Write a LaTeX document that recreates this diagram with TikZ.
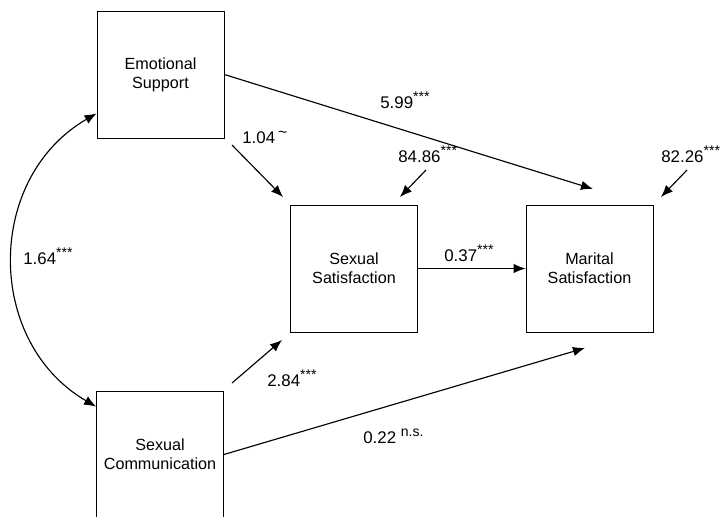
\documentclass[tikz,border=0pt]{standalone}
\usepackage{fontspec}
\setmainfont{Liberation Sans}
\usetikzlibrary{arrows.meta}
\usetikzlibrary{calc}

\newcommand{\sig}[1]{\raisebox{0.4em}{\fontsize{8}{8}\selectfont #1}}

\begin{document}
\begin{tikzpicture}[
    var/.style={draw, line width=0.45pt, minimum size=2.54cm, inner sep=0pt, align=center,
        font=\fontsize{9.2}{11}\selectfont},
    lbl/.style={font=\fontsize{9.6}{11}\selectfont, inner sep=0pt, anchor=base west},
    path/.style={line width=0.65pt, -{Latex[length=2.4mm,width=1.9mm]}}]
    \clip (0,0) rectangle (14.46,-10.32);
            \node[var] (ES) at (3.21,-1.49) {Emotional\\Support};
            \node[var] (SS) at (7.08,-5.37) {Sexual\\Satisfaction};
            \node[var] (MS) at (11.79,-5.37) {Marital\\Satisfaction};
            \node[var] (SC) at (3.20,-9.09) {Sexual\\Communication};
            % free ends of the paths
            \coordinate (a1s) at (4.64,-2.90);
            \coordinate (a1e) at (5.66,-3.94);
            \coordinate (a2s) at (4.64,-7.66);
            \coordinate (a2e) at (5.64,-6.80);
            \coordinate (e1s) at (8.52,-3.40);
            \coordinate (e1e) at (8.00,-3.94);
            \coordinate (e2s) at (13.74,-3.40);
            \coordinate (e2e) at (13.22,-3.94);
            \coordinate (MSa) at (11.86,-3.78);
            \coordinate (MSb) at (11.70,-6.96);
            \draw[path] (ES.east) -- (MSa);
            \draw[path] (SC.east) -- (MSb);
            \draw[path] (a1s) -- (a1e);
            \draw[path] (a2s) -- (a2e);
            \draw[path] (e1s) -- (e1e);
            \draw[path] (e2s) -- (e2e);
            \draw[path] (SS) -- (MS);
            \draw[line width=0.65pt, {Latex[length=2.4mm,width=1.9mm]}-{Latex[length=2.4mm,width=1.9mm]}]
                ($(ES.south west)+(0,0.5)$) .. controls (-0.3,-3.56) and (-0.3,-6.84) .. ($(SC.north west)+(0,-0.32)$);
            % coefficients
            \node[lbl] (b599) at (7.60,-2.17) {5.99\sig{***}};
            \node[lbl] (b104) at (4.84,-2.86) {1.04\,\raisebox{0.3em}{\fontsize{9}{9}\selectfont\textasciitilde}};
            \node[lbl] (b8486) at (7.96,-3.24) {84.86\sig{***}};
            \node[lbl] (b8226) at (13.22,-3.24) {82.26\sig{***}};
            \node[lbl] (b037) at (8.88,-5.22) {0.37\sig{***}};
            \node[lbl] (b284) at (5.34,-7.72) {2.84\sig{***}};
            \node[lbl] (b022) at (7.26,-8.87) {0.22 \sig{n.s.}};
            \node[lbl] (b164) at (0.46,-5.28) {1.64\sig{***}};
\end{tikzpicture}
\end{document}
